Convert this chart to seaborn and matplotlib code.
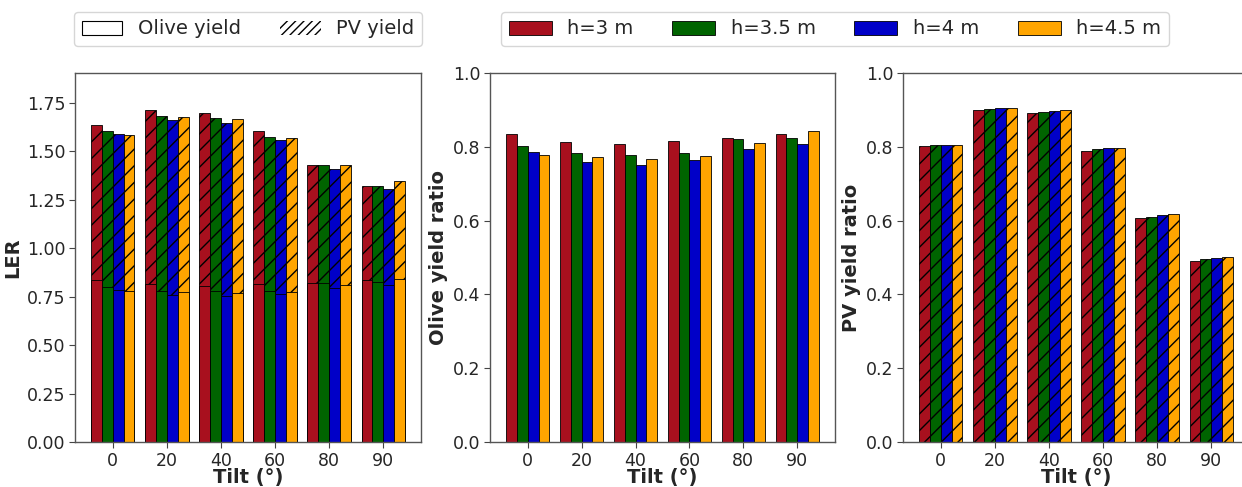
import matplotlib
matplotlib.use("Agg")
import matplotlib.pyplot as plt
from matplotlib.patches import Patch
import seaborn as sns
import pandas as pd
import numpy as np

sns.set_style("white")
plt.rcParams['font.family'] = ['DejaVu Sans']
plt.rcParams['hatch.linewidth'] = 1.0

tilts = ["0", "20", "40", "60", "80", "90"]
heights = ["h=3 m", "h=3.5 m", "h=4 m", "h=4.5 m"]
colors = ["#A8101E", "#006400", "#0000C8", "#FFA500"]

olive = {
    "h=3 m":   [0.834, 0.814, 0.807, 0.817, 0.823, 0.834],
    "h=3.5 m": [0.802, 0.782, 0.777, 0.782, 0.820, 0.825],
    "h=4 m":   [0.787, 0.759, 0.752, 0.765, 0.795, 0.808],
    "h=4.5 m": [0.777, 0.772, 0.767, 0.774, 0.809, 0.843],
}
pv = {
    "h=3 m":   [0.802, 0.901, 0.892, 0.789, 0.607, 0.490],
    "h=3.5 m": [0.804, 0.903, 0.895, 0.794, 0.610, 0.495],
    "h=4 m":   [0.804, 0.904, 0.897, 0.796, 0.615, 0.500],
    "h=4.5 m": [0.806, 0.905, 0.899, 0.798, 0.619, 0.502],
}

rows = []
for h in heights:
    for i, t in enumerate(tilts):
        rows.append({"Tilt": t, "h": h, "olive": olive[h][i], "pv": pv[h][i],
                     "ler": olive[h][i] + pv[h][i]})
df = pd.DataFrame(rows)

W, H = 1242, 487
fig = plt.figure(figsize=(W / 100, H / 100), dpi=100)
bottom = 1 - 442 / H
height = (442 - 73) / H
ax1 = fig.add_axes([75 / W, bottom, (421 - 75) / W, height])
ax2 = fig.add_axes([490 / W, bottom, (835 - 490) / W, height])
ax3 = fig.add_axes([903 / W, bottom, 346 / W, height])

common = dict(x="Tilt", hue="h", order=tilts, hue_order=heights, palette=colors,
              saturation=1, width=0.8, edgecolor="black", linewidth=0.6,
              legend=False, errorbar=None)

# Left: LER stacked (PV hatched on top of olive)
sns.barplot(data=df, y="ler", ax=ax1, hatch="//", **common)
sns.barplot(data=df, y="olive", ax=ax1, **common)
ax1.set_ylim(0, 1.905)
ax1.set_yticks([0, 0.25, 0.5, 0.75, 1.0, 1.25, 1.5, 1.75])
ax1.set_ylabel("LER", fontsize=14, fontweight="bold", labelpad=3)

# Middle: Olive yield ratio
sns.barplot(data=df, y="olive", ax=ax2, **common)
ax2.set_ylim(0, 1.0)
ax2.set_yticks([0, 0.2, 0.4, 0.6, 0.8, 1.0])
ax2.set_ylabel("Olive yield ratio", fontsize=14, fontweight="bold", labelpad=3)

# Right: PV yield ratio
sns.barplot(data=df, y="pv", ax=ax3, hatch="//", **common)
ax3.set_ylim(0, 1.0)
ax3.set_yticks([0, 0.2, 0.4, 0.6, 0.8, 1.0])
ax3.set_ylabel("PV yield ratio", fontsize=14, fontweight="bold", labelpad=3)

for ax in (ax1, ax2, ax3):
    ax.set_xlim(-0.7, 5.7)
    ax.set_xlabel("Tilt (°)", fontsize=14, fontweight="bold", labelpad=-1)
    ax.tick_params(axis="both", labelsize=12.5, length=4, width=0.8, color="#444444",
                   left=True, bottom=True, pad=3)
    for s in ax.spines.values():
        s.set_color("#555555")
        s.set_linewidth(1.0)

h1 = [Patch(facecolor="white", edgecolor="black", linewidth=0.8, label="Olive yield"),
      Patch(facecolor="white", edgecolor="black", hatch="////", linewidth=0.0, label="PV yield")]
leg1 = fig.legend(handles=h1, loc="center", bbox_to_anchor=(248 / W, 1 - 29 / H), ncol=2,
                  fontsize=14, frameon=True, handlelength=2.1, columnspacing=2.0,
                  borderpad=0.4, handletextpad=0.8)
h2 = [Patch(facecolor=c, edgecolor="black", linewidth=0.6, label=l) for c, l in zip(colors, heights)]
leg2 = fig.legend(handles=h2, loc="center", bbox_to_anchor=(835 / W, 1 - 29 / H), ncol=4,
                  fontsize=14, frameon=True, handlelength=2.2, columnspacing=2.0,
                  borderpad=0.4, handletextpad=0.8)

fig.savefig("out.png", dpi=100)
